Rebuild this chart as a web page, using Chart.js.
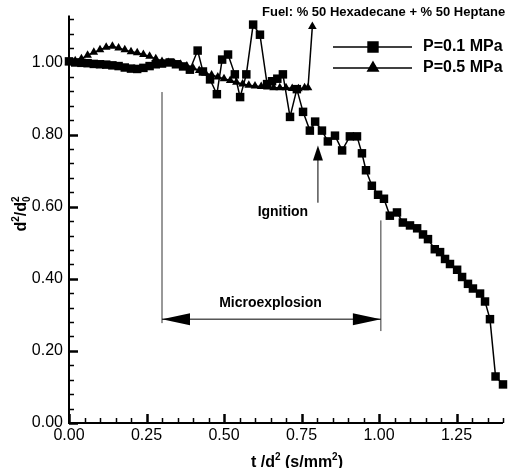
<!DOCTYPE html>
<html><head><meta charset="utf-8">
<script src="https://cdn.jsdelivr.net/npm/chart.js@4/dist/chart.umd.min.js"></script>
<style>html,body{margin:0;padding:0;background:#fff}canvas{display:block}</style>
</head><body>
<canvas id="c" width="510" height="468"></canvas>
<script>
// ---- data ----
const sqX = [0.00,0.02,0.04,0.06,0.08,0.10,0.12,0.14,0.16,0.18,0.20,0.22,0.24,0.26,0.28,0.30,0.325,0.345,0.368,0.39,0.415,0.432,0.455,0.477,0.494,0.513,0.535,0.552,0.572,0.594,0.616,0.639,0.655,0.672,0.69,0.713,0.735,0.755,0.777,0.794,0.816,0.835,0.858,0.881,0.906,0.929,0.945,0.958,0.977,0.997,1.016,1.035,1.058,1.077,1.10,1.123,1.142,1.158,1.18,1.197,1.213,1.229,1.252,1.268,1.287,1.303,1.326,1.342,1.358,1.376,1.40];
const sqY = [1.003,1.0,0.999,0.998,0.996,0.995,0.994,0.992,0.99,0.986,0.983,0.982,0.985,0.99,0.995,0.997,1.0,0.995,0.989,0.98,1.033,0.975,0.953,0.912,1.008,1.022,0.967,0.904,0.967,1.105,1.077,0.94,0.948,0.955,0.967,0.849,0.926,0.863,0.811,0.836,0.811,0.781,0.797,0.756,0.795,0.795,0.748,0.701,0.658,0.633,0.622,0.575,0.584,0.556,0.548,0.54,0.523,0.51,0.482,0.474,0.455,0.441,0.425,0.405,0.386,0.373,0.359,0.337,0.288,0.129,0.107];
const triX = [0.00,0.02,0.04,0.06,0.08,0.10,0.12,0.14,0.16,0.18,0.20,0.22,0.24,0.26,0.28,0.30,0.32,0.34,0.36,0.38,0.40,0.42,0.44,0.46,0.48,0.50,0.52,0.54,0.56,0.58,0.60,0.62,0.64,0.66,0.68,0.70,0.72,0.74,0.76,0.771,0.785];
const triY = [1.0,1.005,1.01,1.02,1.028,1.035,1.042,1.045,1.04,1.035,1.03,1.027,1.022,1.017,1.01,1.003,1.0,0.998,0.995,0.99,0.985,0.978,0.97,0.965,0.96,0.955,0.95,0.945,0.94,0.937,0.935,0.933,0.932,0.93,0.93,0.93,0.928,0.927,0.93,0.93,1.10];
const seriesLabels = ['P=0.1 MPa','P=0.5 MPa'];
const xTickVals = [0.00,0.25,0.50,0.75,1.00,1.25];
const yTickVals = [0.00,0.20,0.40,0.60,0.80,1.00];
const xRange = [0, 1.4], yRange = [0, 1.13];
const xMinorStep = 0.05, yMinorStep = 0.04;
const titleText = 'Fuel: % 50 Hexadecane + % 50 Heptane';

const toPts = (xs, ys) => xs.map((x, i) => ({x, y: ys[i]}));
const FONT = '"Liberation Sans", Arial, sans-serif';

function drawRich(ctx, segs, x, y, align) {
  let w = 0;
  segs.forEach(s => { ctx.font = 'bold ' + s[1] + 'px ' + FONT; if (!s[3]) w += ctx.measureText(s[0]).width; });
  let cx = align === 'center' ? x - w / 2 : x;
  ctx.textAlign = 'left'; ctx.textBaseline = 'alphabetic';
  segs.forEach(s => {
    ctx.font = 'bold ' + s[1] + 'px ' + FONT;
    ctx.fillText(s[0], cx, y + (s[2] || 0));
    if (!s[3]) cx += ctx.measureText(s[0]).width;
  });
}
function arrowHead(ctx, tx, ty, dx, dy, len, half) {
  const px = -dy, py = dx;
  ctx.beginPath();
  ctx.moveTo(tx, ty);
  ctx.lineTo(tx - dx * len + px * half, ty - dy * len + py * half);
  ctx.lineTo(tx - dx * len - px * half, ty - dy * len - py * half);
  ctx.closePath(); ctx.fill();
}

const deco = {
  id: 'deco',
  afterDatasetsDraw(chart) {
    const ctx = chart.ctx, xs = chart.scales.x, ys = chart.scales.y, a = chart.chartArea;
    const X = v => xs.getPixelForValue(v), Y = v => ys.getPixelForValue(v);
    ctx.save();
    ctx.strokeStyle = '#000'; ctx.fillStyle = '#000';
    // axes
    ctx.lineWidth = 2;
    ctx.beginPath(); ctx.moveTo(a.left, a.top); ctx.lineTo(a.left, a.bottom); ctx.lineTo(a.right, a.bottom); ctx.stroke();
    for (let v = 0; v <= yRange[1] + 1e-9; v += yMinorStep) {
      const major = Math.abs(v / 0.2 - Math.round(v / 0.2)) < 1e-6;
      const p = Math.round(Y(v)) + 0.5;
      ctx.lineWidth = major ? 2.5 : 1.5;
      ctx.beginPath(); ctx.moveTo(a.left, p); ctx.lineTo(a.left + (major ? 9 : 5), p); ctx.stroke();
    }
    for (let v = 0; v <= xRange[1] + 1e-9; v += xMinorStep) {
      const major = Math.abs(v / 0.25 - Math.round(v / 0.25)) < 1e-6;
      const p = Math.round(X(v)) + 0.5;
      ctx.lineWidth = major ? 2.5 : 1.5;
      ctx.beginPath(); ctx.moveTo(p, a.bottom); ctx.lineTo(p, a.bottom - (major ? 9 : 5)); ctx.stroke();
    }
    // annotation lines
    ctx.lineWidth = 1; ctx.strokeStyle = '#333';
    ctx.beginPath(); ctx.moveTo(X(0.30), Y(0.918)); ctx.lineTo(X(0.30), Y(0.277)); ctx.stroke();
    ctx.beginPath(); ctx.moveTo(X(1.006), Y(0.562)); ctx.lineTo(X(1.006), Y(0.255)); ctx.stroke();
    ctx.strokeStyle = '#000';
    const ay = Y(0.288);
    ctx.beginPath(); ctx.moveTo(X(0.30), ay); ctx.lineTo(X(1.006), ay); ctx.stroke();
    arrowHead(ctx, X(0.30), ay, -1, 0, 28, 6);
    arrowHead(ctx, X(1.006), ay, 1, 0, 28, 6);
    // ignition arrow
    const ix = X(0.803);
    ctx.beginPath(); ctx.moveTo(ix, Y(0.611)); ctx.lineTo(ix, Y(0.76)); ctx.stroke();
    arrowHead(ctx, ix, Y(0.77), 0, -1, 15, 5);
    // texts
    ctx.textAlign = 'center'; ctx.textBaseline = 'middle';
    ctx.font = 'bold 14px ' + FONT;
    ctx.fillText('Microexplosion', X(0.65), Y(0.333));
    ctx.fillText('Ignition', X(0.69), Y(0.584));
    ctx.textAlign = 'left'; ctx.textBaseline = 'alphabetic';
    ctx.font = 'bold 13px ' + FONT;
    ctx.fillText(titleText, 262, 16);
    // legend
    const rows = [47, 68];
    chart.data.datasets.forEach((ds, i) => {
      const yy = rows[i];
      ctx.lineWidth = 1.5; ctx.strokeStyle = '#000';
      ctx.beginPath(); ctx.moveTo(333, yy); ctx.lineTo(412, yy); ctx.stroke();
      Chart.helpers.drawPoint(ctx, {pointStyle: ds.pointStyle, radius: ds.pointRadius + 1, borderWidth: 1}, 373, yy);
      ctx.fill();
      ctx.font = 'bold 16px ' + FONT; ctx.textBaseline = 'middle';
      ctx.fillText(ds.label, 423, yy);
    });
    // axis titles
    ctx.textBaseline = 'alphabetic';
    drawRich(ctx, [['t /d',16,0],['2',10,-7],[' (s/mm',16,0],['2',10,-7],[')',16,0]], 297, 467, 'center');
    ctx.translate(26, 214); ctx.rotate(-Math.PI / 2);
    drawRich(ctx, [['d',16,0],['2',10,-7],['/d',16,0],['2',10,-7,true],['0',10,4]], 0, 0, 'center');
    ctx.restore();
  }
};

new Chart(document.getElementById('c'), {
  type: 'scatter',
  data: {
    datasets: [
      {label: seriesLabels[0], data: toPts(sqX, sqY), showLine: true, borderColor: '#000', backgroundColor: '#000',
       borderWidth: 1.5, pointStyle: 'rect', pointRadius: 6, pointBorderWidth: 0, tension: 0, clip: false},
      {label: seriesLabels[1], data: toPts(triX, triY), showLine: true, borderColor: '#000', backgroundColor: '#000',
       borderWidth: 1.5, pointStyle: 'triangle', pointRadius: 5, pointBorderWidth: 0, tension: 0, clip: false}
    ]
  },
  options: {
    responsive: false, animation: false, devicePixelRatio: 1,
    layout: {padding: {top: 10, right: 7, left: 0, bottom: 0}},
    plugins: {legend: {display: false}, tooltip: {enabled: false}},
    scales: {
      x: {type: 'linear', min: xRange[0], max: xRange[1],
          afterBuildTicks: s => { s.ticks = xTickVals.map(v => ({value: v})); },
          afterFit: s => { s.height = 45; },
          grid: {display: false, drawTicks: false}, border: {display: false},
          ticks: {padding: 3, color: '#000', font: {family: FONT, size: 16}, maxRotation: 0, autoSkip: false,
                  callback: v => Number(v).toFixed(2)}},
      y: {type: 'linear', min: yRange[0], max: yRange[1],
          afterBuildTicks: s => { s.ticks = yTickVals.map(v => ({value: v})); },
          afterFit: s => { s.width = 69; },
          grid: {display: false, drawTicks: false}, border: {display: false},
          ticks: {padding: 6, color: '#000', font: {family: FONT, size: 16}, autoSkip: false,
                  callback: v => Number(v).toFixed(2)}}
    }
  },
  plugins: [deco]
});
</script>
</body></html>
